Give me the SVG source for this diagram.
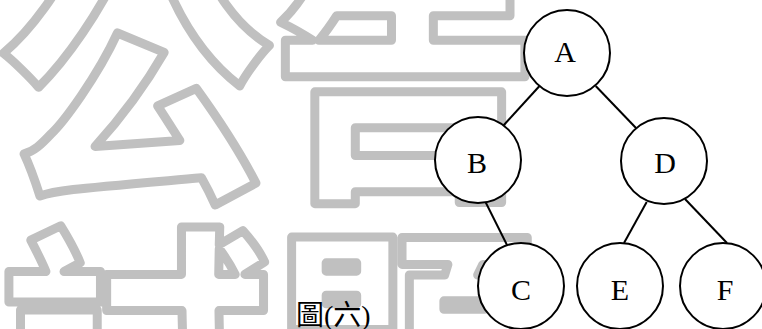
<svg xmlns="http://www.w3.org/2000/svg" width="762" height="329" viewBox="0 0 762 329">
<style>
.wm{font-family:"Noto Sans CJK TC","Noto Sans CJK SC",sans-serif;font-weight:900;font-size:270px;fill:none;stroke:#c0c0c0;stroke-width:9;stroke-linejoin:round}
.node circle{fill:#fff;stroke:#000;stroke-width:2}
.node text{font-family:"Liberation Serif",serif;font-size:30px;text-anchor:middle;fill:#000}
.edges line{stroke:#000;stroke-width:2}
.cap{font-family:"Liberation Serif","Noto Sans CJK TC",serif;font-size:28px;fill:#000}
</style>
<rect width="762" height="329" fill="#fff"/>
<g id="watermark">
<text class="wm" x="0" y="178">公告</text>
<text class="wm" x="0" y="458">試題</text>
</g>
<g id="edges" class="edges">
<line x1="539.5" y1="86" x2="503" y2="126"/>
<line x1="595.7" y1="86" x2="636" y2="128"/>
<line x1="485" y1="201" x2="507" y2="245"/>
<line x1="646.7" y1="202" x2="624" y2="243"/>
<line x1="685" y1="199" x2="727" y2="243"/>
</g>
<g id="node-A" class="node"><circle cx="567" cy="53" r="43"/><text x="565" y="62">A</text></g>
<g id="node-B" class="node"><circle cx="478" cy="160" r="43"/><text x="477" y="173">B</text></g>
<g id="node-D" class="node"><circle cx="664" cy="161" r="43"/><text x="665" y="173">D</text></g>
<g id="node-C" class="node"><circle cx="521" cy="286" r="43"/><text x="521" y="300">C</text></g>
<g id="node-E" class="node"><circle cx="620" cy="286" r="43"/><text x="620" y="300">E</text></g>
<g id="node-F" class="node"><circle cx="723" cy="286" r="43"/><text x="725" y="300">F</text></g>
<text class="cap" x="296" y="325">圖(六)</text>
</svg>
